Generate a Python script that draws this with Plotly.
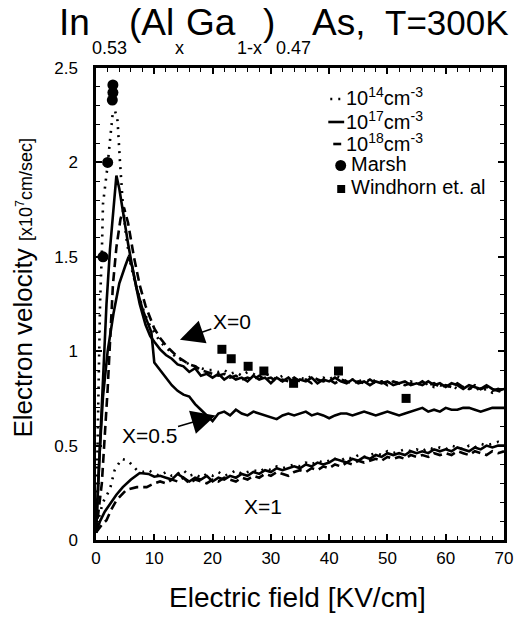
import plotly.graph_objects as go

# ---------------- data ----------------
# shared high-field grid (kV/cm)
FIELD_TAIL = [10, 11, 12, 13, 14, 15, 16, 17, 18, 19, 20, 21, 22, 23, 24, 25, 26, 27, 28, 29,
              30, 31, 32, 33, 34, 35, 36, 37, 38, 39, 40, 41, 42, 43, 44, 45, 46, 47, 48, 49,
              50, 51, 52, 53, 54, 55, 56, 57, 58, 59, 60, 61, 62, 63, 64, 65, 66, 67, 68, 69, 70]

# X = 0, N = 1e14 cm^-3 (dotted)
x0_n14_field = [0, 0.3, 0.7, 1.0, 1.2, 1.9, 2.4, 2.9, 3.3, 3.7, 4.1, 4.6, 5.2, 6, 7, 8, 9] + FIELD_TAIL
x0_n14_vel = [0.04, 0.6, 1.26, 1.52, 1.78, 1.96, 2.11, 2.27, 2.27, 2.22, 2.01, 1.78, 1.6, 1.45, 1.33, 1.23, 1.15,
              1.1, 1.05, 1.02, 0.99, 0.96, 0.95, 0.93, 0.92, 0.91, 0.9, 0.9, 0.89, 0.9, 0.88, 0.89, 0.87, 0.89, 0.88, 0.86, 0.88,
              0.87, 0.85, 0.87, 0.86, 0.84, 0.86, 0.85, 0.87, 0.85, 0.86, 0.85, 0.87, 0.86, 0.84, 0.85, 0.84, 0.85, 0.83, 0.85, 0.84,
              0.83, 0.84, 0.83, 0.82, 0.84, 0.83, 0.82, 0.83, 0.81, 0.82, 0.81, 0.82, 0.8, 0.81, 0.8, 0.81, 0.79, 0.8, 0.78, 0.79, 0.78]

# X = 0, N = 1e17 cm^-3 (solid)
x0_n17_field = [0, 0.6, 1.2, 1.8, 2.4, 3.0, 3.5, 4.0, 4.6, 5.5, 6.5, 7.5, 8.5, 9.3] + FIELD_TAIL
x0_n17_vel = [0.04, 0.45, 0.9, 1.25, 1.54, 1.78, 1.93, 1.86, 1.74, 1.57, 1.4, 1.25, 1.14, 1.08,
              1.05, 1.01, 0.98, 0.96, 0.93, 0.92, 0.89, 0.91, 0.87, 0.88, 0.86, 0.88, 0.85, 0.87, 0.85, 0.86, 0.84, 0.87, 0.85, 0.86,
              0.83, 0.86, 0.84, 0.86, 0.83, 0.85, 0.84, 0.86, 0.83, 0.85, 0.84, 0.86, 0.84, 0.83, 0.85, 0.83, 0.84, 0.82, 0.84, 0.83,
              0.84, 0.82, 0.83, 0.84, 0.82, 0.83, 0.82, 0.84, 0.82, 0.83, 0.81, 0.83, 0.82, 0.8, 0.82, 0.81, 0.8, 0.82, 0.8, 0.79, 0.8]

# X = 0, N = 1e18 cm^-3 (dashed)
x0_n18_field = [0, 1.0, 2.0, 2.9, 3.5, 4.2, 4.8, 5.5, 6.5, 7.5, 8.5, 9.5] + FIELD_TAIL
x0_n18_vel = [0.04, 0.3, 0.8, 1.35, 1.55, 1.7, 1.76, 1.68, 1.5, 1.35, 1.24, 1.16,
              1.12, 1.07, 1.03, 1.0, 0.97, 0.95, 0.93, 0.92, 0.9, 0.89, 0.88, 0.87, 0.88, 0.86, 0.87, 0.85, 0.86, 0.85, 0.87, 0.85,
              0.86, 0.84, 0.85, 0.84, 0.86, 0.84, 0.85, 0.83, 0.85, 0.84, 0.85, 0.83, 0.85, 0.84, 0.83, 0.84, 0.83, 0.85, 0.83, 0.84,
              0.82, 0.84, 0.83, 0.82, 0.83, 0.82, 0.84, 0.82, 0.83, 0.81, 0.82, 0.81, 0.83, 0.81, 0.8, 0.82, 0.8, 0.81, 0.79, 0.8, 0.79]

# X = 0.5, N = 1e17 cm^-3 (solid)
x05_field = [0, 0.6, 1.2, 2, 3, 4, 5, 5.6, 6.2, 7, 8, 9, 9.5] + FIELD_TAIL
x05_vel = [0.04, 0.45, 0.76, 1.0, 1.2, 1.36, 1.45, 1.5, 1.45, 1.33, 1.22, 1.14, 1.1,
           0.94, 0.9, 0.86, 0.82, 0.79, 0.77, 0.76, 0.72, 0.69, 0.66, 0.63, 0.67, 0.68, 0.66, 0.69, 0.67, 0.66, 0.68, 0.67, 0.66,
           0.65, 0.64, 0.66, 0.67, 0.66, 0.67, 0.68, 0.66, 0.67, 0.66, 0.645, 0.66, 0.67, 0.67, 0.66, 0.67, 0.68, 0.67, 0.66, 0.67,
           0.68, 0.67, 0.66, 0.67, 0.68, 0.69, 0.7, 0.68, 0.69, 0.68, 0.7, 0.69, 0.69, 0.7, 0.7, 0.69, 0.68, 0.69, 0.7, 0.7, 0.7]

# X = 1, N = 1e14 cm^-3 (dotted)
x1_n14_field = [0, 0.5, 1.2, 2.4, 3.2, 4.4, 5.5, 7, 8, 9] + FIELD_TAIL
x1_n14_vel = [0.04, 0.12, 0.2, 0.27, 0.37, 0.43, 0.42, 0.37, 0.36, 0.37,
              0.35, 0.34, 0.36, 0.34, 0.35, 0.37, 0.34, 0.35, 0.33, 0.35, 0.34, 0.36, 0.34, 0.35, 0.37, 0.35, 0.36, 0.37, 0.36, 0.38,
              0.37, 0.39, 0.38, 0.39, 0.4, 0.39, 0.41, 0.4, 0.42, 0.41, 0.42, 0.43, 0.42, 0.44, 0.43, 0.45, 0.44, 0.45, 0.46, 0.45,
              0.47, 0.46, 0.47, 0.48, 0.47, 0.48, 0.47, 0.49, 0.48, 0.49, 0.48, 0.5, 0.49, 0.48, 0.5, 0.49, 0.51, 0.5, 0.51, 0.52, 0.51]

# X = 1, N = 1e17 cm^-3 (solid)
x1_n17_field = [0, 0.7, 1.5, 2.4, 3.5, 4.6, 6, 7.5, 9] + FIELD_TAIL
x1_n17_vel = [0.04, 0.1, 0.15, 0.19, 0.24, 0.28, 0.32, 0.355, 0.35,
              0.335, 0.34, 0.33, 0.32, 0.35, 0.33, 0.31, 0.33, 0.32, 0.34, 0.31, 0.33, 0.32, 0.34, 0.33, 0.35, 0.34, 0.36, 0.35, 0.37,
              0.36, 0.38, 0.37, 0.38, 0.39, 0.38, 0.4, 0.39, 0.41, 0.4, 0.41, 0.43, 0.42, 0.41, 0.43, 0.42, 0.44, 0.43, 0.45, 0.44,
              0.46, 0.45, 0.46, 0.45, 0.47, 0.46, 0.47, 0.46, 0.48, 0.47, 0.48, 0.47, 0.49, 0.48, 0.47, 0.49, 0.48, 0.5, 0.49, 0.5, 0.5]

# X = 1, N = 1e18 cm^-3 (dashed)
x1_n18_field = [0, 1.0, 1.8, 2.6, 3.5, 5.2, 7, 8.7] + FIELD_TAIL
x1_n18_vel = [0.04, 0.08, 0.105, 0.16, 0.21, 0.265, 0.28, 0.28,
              0.3, 0.31, 0.3, 0.32, 0.31, 0.33, 0.3, 0.32, 0.31, 0.3, 0.32, 0.31, 0.33, 0.32, 0.31, 0.33, 0.32, 0.34, 0.33, 0.35,
              0.34, 0.36, 0.35, 0.34, 0.36, 0.37, 0.36, 0.38, 0.37, 0.39, 0.38, 0.4, 0.39, 0.41, 0.4, 0.42, 0.41, 0.42, 0.43, 0.42,
              0.44, 0.43, 0.44, 0.43, 0.45, 0.44, 0.45, 0.44, 0.46, 0.45, 0.46, 0.45, 0.47, 0.46, 0.45, 0.47, 0.46, 0.45, 0.47, 0.46, 0.47]

# measured points
marsh_field = [1.2, 2.0, 2.8, 2.9, 2.9]
marsh_vel = [1.5, 2.0, 2.33, 2.37, 2.41]
windhorn_field = [21.6, 23.2, 26.1, 28.8, 33.9, 41.6, 53.2]
windhorn_vel = [1.01, 0.96, 0.92, 0.895, 0.83, 0.895, 0.75]

legend_names = ["10<sup>14</sup>cm<sup>-3</sup>", "10<sup>17</sup>cm<sup>-3</sup>",
                "10<sup>18</sup>cm<sup>-3</sup>", "Marsh", "Windhorn et. al"]

# ---------------- figure ----------------
FONT = "Liberation Sans, Arial, Helvetica, sans-serif"
W, H = 525, 619
ML, MR, MT, MB = 96, 18, 68, 79
PW, PH = W - ML - MR, H - MT - MB


def px(x):
    return (x - ML) / PW


def py(y):
    return (H - MB - y) / PH


DOT = "2px,6px"
DASH = "9px,5px"
LW = 2.6

fig = go.Figure()

styles = {"n14": DOT, "n17": "solid", "n18": DASH}
curves = [
    (x0_n14_field, x0_n14_vel, "n14", legend_names[0]),
    (x0_n17_field, x0_n17_vel, "n17", legend_names[1]),
    (x0_n18_field, x0_n18_vel, "n18", legend_names[2]),
    (x05_field, x05_vel, "n17", legend_names[1]),
    (x1_n14_field, x1_n14_vel, "n14", legend_names[0]),
    (x1_n17_field, x1_n17_vel, "n17", legend_names[1]),
    (x1_n18_field, x1_n18_vel, "n18", legend_names[2]),
]
for fx, vy, key, name in curves:
    fig.add_trace(go.Scatter(
        x=fx, y=vy, mode="lines", name=name, legendgroup=key, showlegend=False,
        line=dict(color="black", width=LW, dash=styles[key]),
    ))

fig.add_trace(go.Scatter(
    x=marsh_field, y=marsh_vel, mode="markers", name=legend_names[3], showlegend=False,
    marker=dict(symbol="circle", size=11, color="black"),
))
fig.add_trace(go.Scatter(
    x=windhorn_field, y=windhorn_vel, mode="markers", name=legend_names[4], showlegend=False,
    marker=dict(symbol="square", size=9, color="black"),
))

axis_common = dict(
    showgrid=False, zeroline=False, showline=True, linecolor="black", linewidth=2.5,
    mirror="allticks", ticks="inside", ticklen=6, tickwidth=1.5, tickcolor="black",
    tickfont=dict(family=FONT, size=17, color="black"),
)

fig.update_xaxes(range=[0, 70], tick0=0, dtick=10,
                 minor=dict(dtick=2, ticks="inside", ticklen=4, tickwidth=1.2, tickcolor="black"),
                 ticklabelstandoff=1, **axis_common)
fig.update_yaxes(range=[0, 2.5], tick0=0, dtick=0.5,
                 tickvals=[0, 0.5, 1, 1.5, 2, 2.5], ticktext=["0", "0.5", "1", "1.5", "2", "2.5"],
                 minor=dict(dtick=0.1, ticks="inside", ticklen=4, tickwidth=1.2, tickcolor="black"),
                 ticklabelstandoff=12, **axis_common)

annotations = []
shapes = []

# title assembled from pieces: main text and lowered subscripts
TS, SS = 37, 18
for text, left, base, size in [
    ("In", 58, 34, TS), ("(Al", 128, 34, TS), ("Ga", 186, 34, TS), (")", 263, 34, TS),
    ("As,", 313, 34, TS), ("T=300K", 386, 34, 35),
    ("0.53", 91, 53, SS), ("x", 175, 53, SS), ("1-x", 237, 53, SS), ("0.47", 276, 53, SS),
]:
    annotations.append(dict(
        text=text, x=px(left - 1), y=py(base - 0.905 * size - 1), xref="paper", yref="paper",
        xanchor="left", yanchor="top", showarrow=False,
        font=dict(family=FONT, size=size, color="black"),
    ))

# axis titles
annotations.append(dict(
    text="Electric field [KV/cm]", x=px(299), y=py(597), xref="paper", yref="paper",
    xanchor="center", yanchor="middle", showarrow=False,
    font=dict(family=FONT, size=28, color="black"),
))
annotations.append(dict(
    text="Electron velocity <span style='font-size:18px'>[x10<sup>7</sup>cm/sec]</span>",
    x=px(22), y=py(288), xref="paper", yref="paper", textangle=-90,
    xanchor="center", yanchor="middle", showarrow=False,
    font=dict(family=FONT, size=26, color="black"),
))

# key in the upper right: symbol drawn as a shape, label as text
KEY_ROWS = [97, 120, 142, 164, 187]
KEY_TEXT_X = [346, 346, 346, 351, 351]
key_font = dict(family=FONT, size=20, color="black")
for row_y, tx, label in zip(KEY_ROWS, KEY_TEXT_X, legend_names):
    annotations.append(dict(
        text=label, x=px(tx), y=py(row_y), xref="paper", yref="paper",
        xanchor="left", yanchor="middle", showarrow=False, font=key_font,
    ))
for (x0, x1), dash, row_y in [((332, 346), DOT, KEY_ROWS[0]), ((330, 346), "solid", KEY_ROWS[1]),
                              ((335, 343), "solid", KEY_ROWS[2])]:
    shapes.append(dict(type="line", xref="paper", yref="paper",
                       x0=px(x0), x1=px(x1), y0=py(row_y + 2), y1=py(row_y + 2),
                       line=dict(color="black", width=LW, dash=dash)))
shapes.append(dict(type="circle", xref="paper", yref="paper",
                   x0=px(337), x1=px(348), y0=py(KEY_ROWS[3] + 7), y1=py(KEY_ROWS[3] - 4),
                   fillcolor="black", line=dict(color="black", width=0)))
shapes.append(dict(type="rect", xref="paper", yref="paper",
                   x0=px(339), x1=px(347), y0=py(KEY_ROWS[4] + 6), y1=py(KEY_ROWS[4] - 2),
                   fillcolor="black", line=dict(color="black", width=0)))

# curve labels with arrows
ann_font = dict(family=FONT, size=21, color="black")
annotations.append(dict(
    text="X=0", x=14.4, y=1.06, ax=23.3, ay=1.155, xref="x", yref="y", axref="x", ayref="y",
    showarrow=True, arrowhead=2, arrowsize=3.2, arrowwidth=1.5, arrowcolor="black", font=ann_font,
))
annotations.append(dict(
    text="X=0.5", x=20.5, y=0.66, ax=9.1, ay=0.556, xref="x", yref="y", axref="x", ayref="y",
    showarrow=True, arrowhead=2, arrowsize=3.2, arrowwidth=1.5, arrowcolor="black", font=ann_font,
))
annotations.append(dict(
    text="X=1", x=28.6, y=0.18, xref="x", yref="y", showarrow=False, font=ann_font,
))

fig.update_layout(
    width=W, height=H, margin=dict(l=ML, r=MR, t=MT, b=MB),
    paper_bgcolor="white", plot_bgcolor="white",
    font=dict(family=FONT, color="black"),
    annotations=annotations, shapes=shapes, showlegend=False,
)

fig.write_html("out.html")
